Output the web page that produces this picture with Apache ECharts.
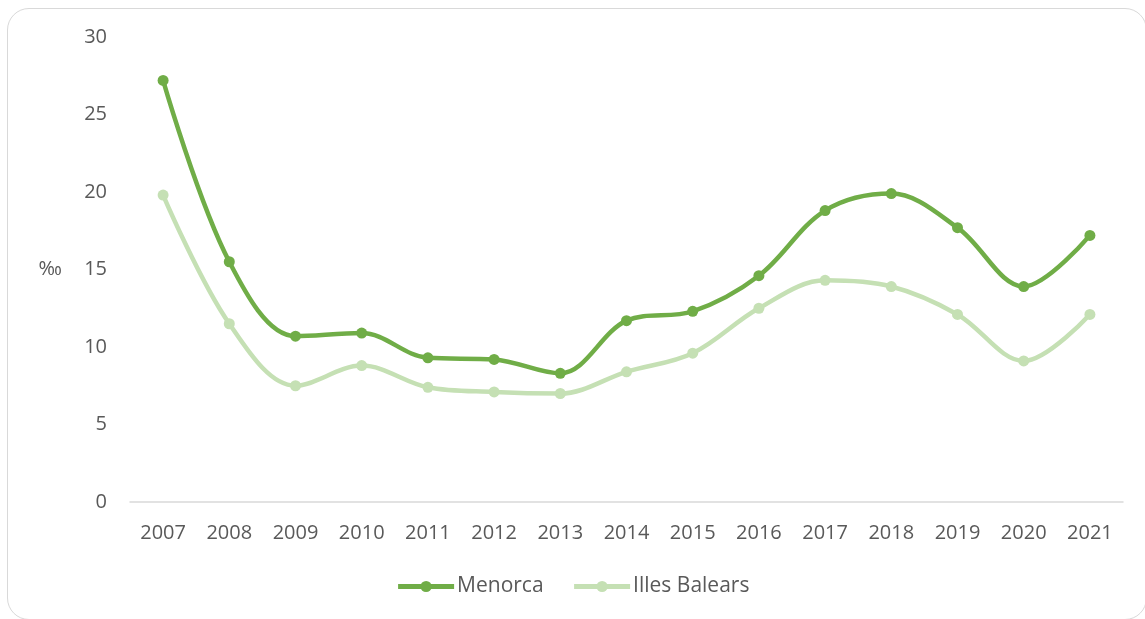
<!DOCTYPE html>
<html>
<head>
<meta charset="utf-8">
<script src="https://cdn.jsdelivr.net/npm/echarts@6/dist/echarts.min.js"></script>
<style>
html,body{margin:0;padding:0;background:#fff;}
#frame{position:absolute;left:7px;top:8px;width:1140px;height:612px;border:1.5px solid #d9d9d9;border-radius:22px;box-sizing:border-box;}
#chart{position:absolute;left:0;top:0;width:1145px;height:619px;}
</style>
</head>
<body>
<div id="frame"></div>
<div id="chart"></div>
<script>
const years = ['2007','2008','2009','2010','2011','2012','2013','2014','2015','2016','2017','2018','2019','2020','2021'];
const menorca = [27.2, 15.5, 10.7, 10.9, 9.3, 9.2, 8.3, 11.7, 12.3, 14.6, 18.8, 19.9, 17.7, 13.9, 17.2];
const illesBalears = [19.8, 11.5, 7.5, 8.8, 7.4, 7.1, 7.0, 8.4, 9.6, 12.5, 14.3, 13.9, 12.1, 9.1, 12.1];
const yTicks = {min: 0, max: 30, interval: 5};

const chart = echarts.init(document.getElementById('chart'));
const font = 'Open Sans, Noto Sans, sans-serif';
const mkSeries = (name, data, color) => ({
  name, type: 'line', data, smooth: 0.35,
  symbol: 'circle', symbolSize: 11,
  lineStyle: {color, width: 4.5},
  itemStyle: {color},
  emphasis: {disabled: true}
});
chart.setOption({
  animation: false,
  grid: {left: 130, right: 22, top: 37, bottom: 117},
  legend: {
    bottom: 17, left: 'center', itemWidth: 56, itemHeight: 14, itemGap: 28,
    lineStyle: {width: 5},
    textStyle: {fontFamily: font, fontSize: 21, color: '#595959', padding: [0,0,0,-2]},
    data: ['Menorca', 'Illes Balears']
  },
  xAxis: {
    type: 'category', data: years, boundaryGap: true,
    axisLine: {lineStyle: {color: '#d9d9d9', width: 1.5}},
    axisTick: {show: false},
    axisLabel: {fontFamily: font, fontSize: 20, color: '#595959', margin: 21}
  },
  yAxis: {
    type: 'value', min: yTicks.min, max: yTicks.max, interval: yTicks.interval,
    name: '‰', nameLocation: 'middle', nameRotate: 0, nameGap: 68,
    nameTextStyle: {fontFamily: font, fontSize: 20, color: '#595959'},
    axisLine: {show: false}, axisTick: {show: false}, splitLine: {show: false},
    axisLabel: {fontFamily: font, fontSize: 20, color: '#595959', margin: 23}
  },
  series: [
    mkSeries('Menorca', menorca, '#70ad47'),
    mkSeries('Illes Balears', illesBalears, '#c5e0b4')
  ]
});
</script>
</body>
</html>
